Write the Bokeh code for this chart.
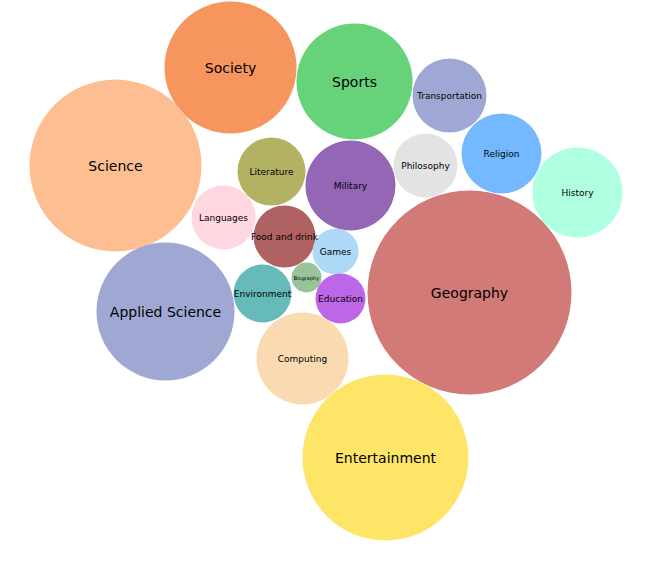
from bokeh.plotting import figure
from bokeh.models import ColumnDataSource, Range1d
from bokeh.core.properties import value
from bokeh.embed import file_html
from bokeh.resources import INLINE

# bubble layout (page pixels)
labels = ["Society", "Sports", "Transportation", "Religion", "History", "Science",
          "Literature", "Military", "Philosophy", "Languages", "Food and drink", "Games",
          "Geography", "Applied Science", "Environment", "Biography", "Education",
          "Computing", "Entertainment"]
xs = [230, 354, 449, 501, 577, 115, 271, 350, 425, 223, 284, 335, 469, 165, 262, 306, 340, 302, 385]
ys = [67, 81, 95, 153, 192, 165, 171, 185, 165, 217, 236, 251, 292, 311, 293, 277, 298, 358, 457]
radii = [66, 58, 37, 40, 45, 86, 34, 45, 32, 32, 31, 23, 102, 69, 29, 15, 25, 46, 83]
colors = ["#F7955F", "#66D37A", "#9FA8D4", "#74B9FF", "#AFFFE1", "#FDBF91",
          "#B3B162", "#9467B6", "#E3E3E3", "#FFD7E1", "#B06262", "#ADD8F8",
          "#D27A77", "#9FA8D3", "#66BABA", "#98C39B", "#BE66E8", "#FADBB1", "#FEE567"]

sizes = []
for r in radii:
    if r >= 55:
        sizes.append("14px")
    elif r >= 20:
        sizes.append("9px")
    else:
        sizes.append("5px")

src = ColumnDataSource(dict(x=xs, y=ys, r=radii, c=colors, t=labels, s=sizes))

p = figure(width=636, height=551, output_backend="svg", toolbar_location=None,
           x_range=Range1d(0, 636), y_range=Range1d(551, 0), min_border=0)
p.axis.visible = False
p.grid.visible = False
p.outline_line_color = None

p.circle(x="x", y="y", radius="r", fill_color="c", line_color=None, source=src)
p.text(x="x", y="y", text="t", text_font_size="s", text_align="center",
       text_baseline="middle", text_font=value("DejaVu Sans"), text_color="black",
       source=src)

open("out.html", "w").write(file_html(p, INLINE))
